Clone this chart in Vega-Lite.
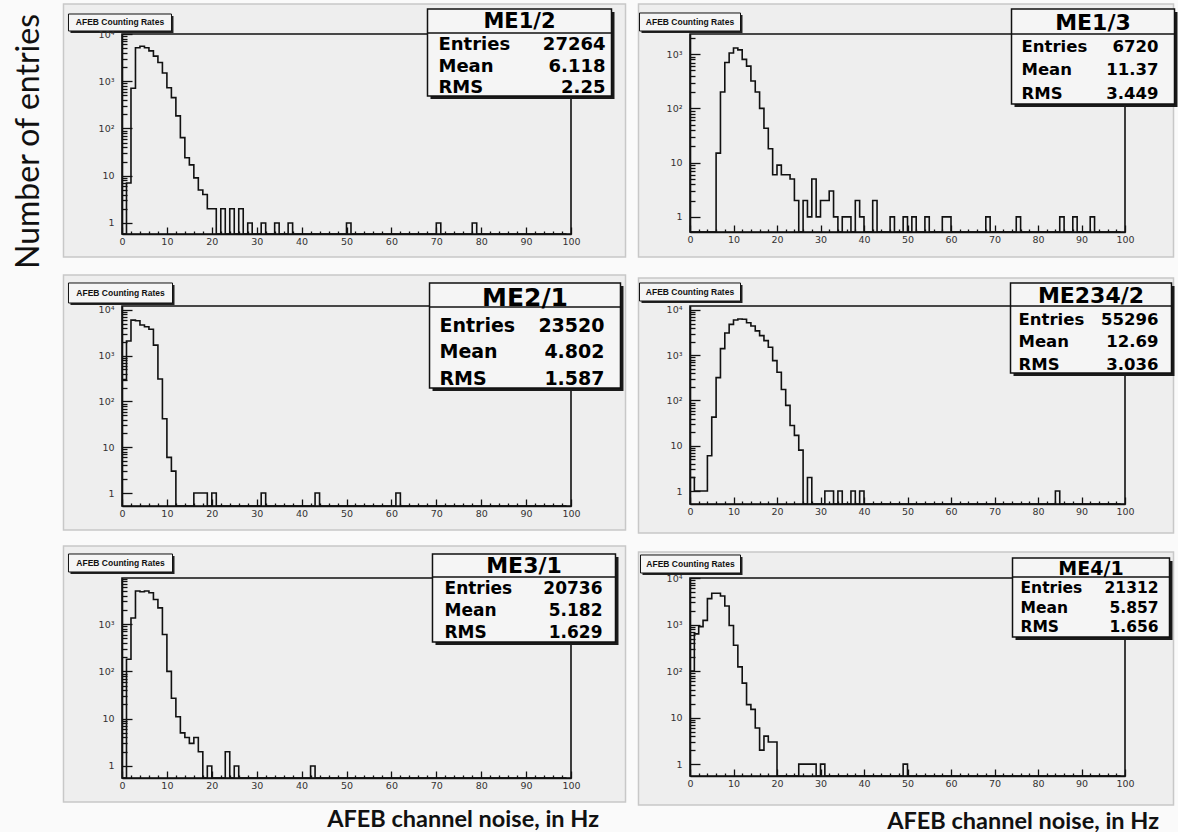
{
  "$schema": "https://vega.github.io/schema/vega-lite/v6.json",
  "background": "#fafafa",
  "padding": {"left": 12, "top": 3, "right": 0, "bottom": 0},
  "columns": 2,
  "spacing": {"row": 72, "column": 119},
  "bounds": "flush",
  "config": {
    "view": {"stroke": null},
    "axis": {"grid": false, "domainColor": "#111111", "domainWidth": 1.6, "tickColor": "#111111", "tickWidth": 1.3, "labelFont": "DejaVu Sans", "labelFontSize": 9.5, "labelColor": "#333333", "labelOverlap": false, "labelFlush": false, "labelBound": false}
  },
  "datasets": {
    "stats": [
      {"chamber": "ME1/2", "title": "AFEB Counting Rates", "names": "Entries\nMean\nRMS", "stat_values": "27264\n6.118\n2.25"},
      {"chamber": "ME1/3", "title": "AFEB Counting Rates", "names": "Entries\nMean\nRMS", "stat_values": "6720\n11.37\n3.449"},
      {"chamber": "ME2/1", "title": "AFEB Counting Rates", "names": "Entries\nMean\nRMS", "stat_values": "23520\n4.802\n1.587"},
      {"chamber": "ME234/2", "title": "AFEB Counting Rates", "names": "Entries\nMean\nRMS", "stat_values": "55296\n12.69\n3.036"},
      {"chamber": "ME3/1", "title": "AFEB Counting Rates", "names": "Entries\nMean\nRMS", "stat_values": "20736\n5.182\n1.629"},
      {"chamber": "ME4/1", "title": "AFEB Counting Rates", "names": "Entries\nMean\nRMS", "stat_values": "21312\n5.857\n1.656"}
    ],
    "me12": [
      {"bin":0,"n":0},{"bin":1,"n":7},{"bin":2,"n":710},{"bin":3,"n":5100},{"bin":4,"n":5500},{"bin":5,"n":5100},{"bin":6,"n":4400},{"bin":7,"n":3400},{"bin":8,"n":2500},{"bin":9,"n":1500},
      {"bin":10,"n":730},{"bin":11,"n":450},{"bin":12,"n":185},{"bin":13,"n":64},{"bin":14,"n":24},{"bin":15,"n":17},{"bin":16,"n":9},{"bin":17,"n":5},{"bin":18,"n":4},{"bin":19,"n":2},
      {"bin":20,"n":2},{"bin":21,"n":0},{"bin":22,"n":2},{"bin":23,"n":0},{"bin":24,"n":2},{"bin":25,"n":0},{"bin":26,"n":2},{"bin":27,"n":0},{"bin":28,"n":1},{"bin":29,"n":0},
      {"bin":30,"n":0},{"bin":31,"n":1},{"bin":32,"n":0},{"bin":33,"n":0},{"bin":34,"n":1},{"bin":35,"n":0},{"bin":36,"n":0},{"bin":37,"n":1},{"bin":38,"n":0},{"bin":39,"n":0},
      {"bin":40,"n":0},{"bin":41,"n":0},{"bin":42,"n":0},{"bin":43,"n":0},{"bin":44,"n":0},{"bin":45,"n":0},{"bin":46,"n":0},{"bin":47,"n":0},{"bin":48,"n":0},{"bin":49,"n":0},
      {"bin":50,"n":1},{"bin":51,"n":0},{"bin":52,"n":0},{"bin":53,"n":0},{"bin":54,"n":0},{"bin":55,"n":0},{"bin":56,"n":0},{"bin":57,"n":0},{"bin":58,"n":0},{"bin":59,"n":0},
      {"bin":60,"n":0},{"bin":61,"n":0},{"bin":62,"n":0},{"bin":63,"n":0},{"bin":64,"n":0},{"bin":65,"n":0},{"bin":66,"n":0},{"bin":67,"n":0},{"bin":68,"n":0},{"bin":69,"n":0},
      {"bin":70,"n":1},{"bin":71,"n":0},{"bin":72,"n":0},{"bin":73,"n":0},{"bin":74,"n":0},{"bin":75,"n":0},{"bin":76,"n":0},{"bin":77,"n":0},{"bin":78,"n":1},{"bin":79,"n":0},
      {"bin":80,"n":0},{"bin":81,"n":0},{"bin":82,"n":0},{"bin":83,"n":0},{"bin":84,"n":0},{"bin":85,"n":0},{"bin":86,"n":0},{"bin":87,"n":0},{"bin":88,"n":0},{"bin":89,"n":0},
      {"bin":90,"n":0},{"bin":91,"n":0},{"bin":92,"n":0},{"bin":93,"n":0},{"bin":94,"n":0},{"bin":95,"n":0},{"bin":96,"n":0},{"bin":97,"n":0},{"bin":98,"n":0},{"bin":99,"n":0}
    ],
    "me13": [
      {"bin":0,"n":0},{"bin":1,"n":0},{"bin":2,"n":0},{"bin":3,"n":0},{"bin":4,"n":0},{"bin":5,"n":0},{"bin":6,"n":15},{"bin":7,"n":200},{"bin":8,"n":700},{"bin":9,"n":1050},
      {"bin":10,"n":1300},{"bin":11,"n":1200},{"bin":12,"n":800},{"bin":13,"n":600},{"bin":14,"n":320},{"bin":15,"n":200},{"bin":16,"n":100},{"bin":17,"n":43},{"bin":18,"n":18},{"bin":19,"n":6},
      {"bin":20,"n":9},{"bin":21,"n":6},{"bin":22,"n":6},{"bin":23,"n":5},{"bin":24,"n":2},{"bin":25,"n":0},{"bin":26,"n":2},{"bin":27,"n":1},{"bin":28,"n":5},{"bin":29,"n":1},
      {"bin":30,"n":2},{"bin":31,"n":2},{"bin":32,"n":3},{"bin":33,"n":1},{"bin":34,"n":0},{"bin":35,"n":1},{"bin":36,"n":1},{"bin":37,"n":0},{"bin":38,"n":2},{"bin":39,"n":1},
      {"bin":40,"n":0},{"bin":41,"n":0},{"bin":42,"n":2},{"bin":43,"n":0},{"bin":44,"n":0},{"bin":45,"n":0},{"bin":46,"n":1},{"bin":47,"n":0},{"bin":48,"n":0},{"bin":49,"n":1},
      {"bin":50,"n":0},{"bin":51,"n":1},{"bin":52,"n":0},{"bin":53,"n":0},{"bin":54,"n":1},{"bin":55,"n":0},{"bin":56,"n":0},{"bin":57,"n":0},{"bin":58,"n":1},{"bin":59,"n":1},
      {"bin":60,"n":0},{"bin":61,"n":0},{"bin":62,"n":0},{"bin":63,"n":0},{"bin":64,"n":0},{"bin":65,"n":0},{"bin":66,"n":0},{"bin":67,"n":0},{"bin":68,"n":1},{"bin":69,"n":0},
      {"bin":70,"n":0},{"bin":71,"n":0},{"bin":72,"n":0},{"bin":73,"n":0},{"bin":74,"n":0},{"bin":75,"n":1},{"bin":76,"n":0},{"bin":77,"n":0},{"bin":78,"n":0},{"bin":79,"n":0},
      {"bin":80,"n":0},{"bin":81,"n":0},{"bin":82,"n":0},{"bin":83,"n":0},{"bin":84,"n":0},{"bin":85,"n":1},{"bin":86,"n":0},{"bin":87,"n":0},{"bin":88,"n":1},{"bin":89,"n":0},
      {"bin":90,"n":0},{"bin":91,"n":0},{"bin":92,"n":1},{"bin":93,"n":0},{"bin":94,"n":0},{"bin":95,"n":0},{"bin":96,"n":0},{"bin":97,"n":0},{"bin":98,"n":0},{"bin":99,"n":0}
    ],
    "me21": [
      {"bin":0,"n":300},{"bin":1,"n":2100},{"bin":2,"n":6000},{"bin":3,"n":5800},{"bin":4,"n":4700},{"bin":5,"n":4300},{"bin":6,"n":3800},{"bin":7,"n":1700},{"bin":8,"n":310},{"bin":9,"n":42},
      {"bin":10,"n":6},{"bin":11,"n":3},{"bin":12,"n":0},{"bin":13,"n":0},{"bin":14,"n":0},{"bin":15,"n":0},{"bin":16,"n":1},{"bin":17,"n":1},{"bin":18,"n":1},{"bin":19,"n":0},
      {"bin":20,"n":1},{"bin":21,"n":0},{"bin":22,"n":0},{"bin":23,"n":0},{"bin":24,"n":0},{"bin":25,"n":0},{"bin":26,"n":0},{"bin":27,"n":0},{"bin":28,"n":0},{"bin":29,"n":0},
      {"bin":30,"n":0},{"bin":31,"n":1},{"bin":32,"n":0},{"bin":33,"n":0},{"bin":34,"n":0},{"bin":35,"n":0},{"bin":36,"n":0},{"bin":37,"n":0},{"bin":38,"n":0},{"bin":39,"n":0},
      {"bin":40,"n":0},{"bin":41,"n":0},{"bin":42,"n":0},{"bin":43,"n":1},{"bin":44,"n":0},{"bin":45,"n":0},{"bin":46,"n":0},{"bin":47,"n":0},{"bin":48,"n":0},{"bin":49,"n":0},
      {"bin":50,"n":0},{"bin":51,"n":0},{"bin":52,"n":0},{"bin":53,"n":0},{"bin":54,"n":0},{"bin":55,"n":0},{"bin":56,"n":0},{"bin":57,"n":0},{"bin":58,"n":0},{"bin":59,"n":0},
      {"bin":60,"n":0},{"bin":61,"n":1},{"bin":62,"n":0},{"bin":63,"n":0},{"bin":64,"n":0},{"bin":65,"n":0},{"bin":66,"n":0},{"bin":67,"n":0},{"bin":68,"n":0},{"bin":69,"n":0},
      {"bin":70,"n":0},{"bin":71,"n":0},{"bin":72,"n":0},{"bin":73,"n":0},{"bin":74,"n":0},{"bin":75,"n":0},{"bin":76,"n":0},{"bin":77,"n":0},{"bin":78,"n":0},{"bin":79,"n":0},
      {"bin":80,"n":0},{"bin":81,"n":0},{"bin":82,"n":0},{"bin":83,"n":0},{"bin":84,"n":0},{"bin":85,"n":0},{"bin":86,"n":0},{"bin":87,"n":0},{"bin":88,"n":0},{"bin":89,"n":0},
      {"bin":90,"n":0},{"bin":91,"n":0},{"bin":92,"n":0},{"bin":93,"n":0},{"bin":94,"n":0},{"bin":95,"n":0},{"bin":96,"n":0},{"bin":97,"n":0},{"bin":98,"n":0},{"bin":99,"n":0}
    ],
    "me2342": [
      {"bin":0,"n":2},{"bin":1,"n":1},{"bin":2,"n":1},{"bin":3,"n":1},{"bin":4,"n":6},{"bin":5,"n":43},{"bin":6,"n":320},{"bin":7,"n":1400},{"bin":8,"n":3100},{"bin":9,"n":4800},
      {"bin":10,"n":6000},{"bin":11,"n":6300},{"bin":12,"n":6200},{"bin":13,"n":5200},{"bin":14,"n":4400},{"bin":15,"n":3450},{"bin":16,"n":2700},{"bin":17,"n":2100},{"bin":18,"n":1500},{"bin":19,"n":760},
      {"bin":20,"n":420},{"bin":21,"n":175},{"bin":22,"n":78},{"bin":23,"n":28},{"bin":24,"n":17},{"bin":25,"n":8},{"bin":26,"n":0},{"bin":27,"n":2},{"bin":28,"n":0},{"bin":29,"n":0},
      {"bin":30,"n":0},{"bin":31,"n":1},{"bin":32,"n":1},{"bin":33,"n":0},{"bin":34,"n":1},{"bin":35,"n":0},{"bin":36,"n":0},{"bin":37,"n":1},{"bin":38,"n":0},{"bin":39,"n":1},
      {"bin":40,"n":0},{"bin":41,"n":0},{"bin":42,"n":0},{"bin":43,"n":0},{"bin":44,"n":0},{"bin":45,"n":0},{"bin":46,"n":0},{"bin":47,"n":0},{"bin":48,"n":0},{"bin":49,"n":0},
      {"bin":50,"n":0},{"bin":51,"n":0},{"bin":52,"n":0},{"bin":53,"n":0},{"bin":54,"n":0},{"bin":55,"n":0},{"bin":56,"n":0},{"bin":57,"n":0},{"bin":58,"n":0},{"bin":59,"n":0},
      {"bin":60,"n":0},{"bin":61,"n":0},{"bin":62,"n":0},{"bin":63,"n":0},{"bin":64,"n":0},{"bin":65,"n":0},{"bin":66,"n":0},{"bin":67,"n":0},{"bin":68,"n":0},{"bin":69,"n":0},
      {"bin":70,"n":0},{"bin":71,"n":0},{"bin":72,"n":0},{"bin":73,"n":0},{"bin":74,"n":0},{"bin":75,"n":0},{"bin":76,"n":0},{"bin":77,"n":0},{"bin":78,"n":0},{"bin":79,"n":0},
      {"bin":80,"n":0},{"bin":81,"n":0},{"bin":82,"n":0},{"bin":83,"n":0},{"bin":84,"n":1},{"bin":85,"n":0},{"bin":86,"n":0},{"bin":87,"n":0},{"bin":88,"n":0},{"bin":89,"n":0},
      {"bin":90,"n":0},{"bin":91,"n":0},{"bin":92,"n":0},{"bin":93,"n":0},{"bin":94,"n":0},{"bin":95,"n":0},{"bin":96,"n":0},{"bin":97,"n":0},{"bin":98,"n":0},{"bin":99,"n":0}
    ],
    "me31": [
      {"bin":0,"n":0},{"bin":1,"n":180},{"bin":2,"n":1340},{"bin":3,"n":5000},{"bin":4,"n":4800},{"bin":5,"n":5000},{"bin":6,"n":4600},{"bin":7,"n":3300},{"bin":8,"n":2200},{"bin":9,"n":600},
      {"bin":10,"n":100},{"bin":11,"n":27},{"bin":12,"n":11},{"bin":13,"n":5},{"bin":14,"n":4},{"bin":15,"n":3},{"bin":16,"n":4},{"bin":17,"n":2},{"bin":18,"n":0},{"bin":19,"n":1},
      {"bin":20,"n":0},{"bin":21,"n":0},{"bin":22,"n":0},{"bin":23,"n":2},{"bin":24,"n":0},{"bin":25,"n":1},{"bin":26,"n":0},{"bin":27,"n":0},{"bin":28,"n":0},{"bin":29,"n":0},
      {"bin":30,"n":0},{"bin":31,"n":0},{"bin":32,"n":0},{"bin":33,"n":0},{"bin":34,"n":0},{"bin":35,"n":0},{"bin":36,"n":0},{"bin":37,"n":0},{"bin":38,"n":0},{"bin":39,"n":0},
      {"bin":40,"n":0},{"bin":41,"n":0},{"bin":42,"n":1},{"bin":43,"n":0},{"bin":44,"n":0},{"bin":45,"n":0},{"bin":46,"n":0},{"bin":47,"n":0},{"bin":48,"n":0},{"bin":49,"n":0},
      {"bin":50,"n":0},{"bin":51,"n":0},{"bin":52,"n":0},{"bin":53,"n":0},{"bin":54,"n":0},{"bin":55,"n":0},{"bin":56,"n":0},{"bin":57,"n":0},{"bin":58,"n":0},{"bin":59,"n":0},
      {"bin":60,"n":0},{"bin":61,"n":0},{"bin":62,"n":0},{"bin":63,"n":0},{"bin":64,"n":0},{"bin":65,"n":0},{"bin":66,"n":0},{"bin":67,"n":0},{"bin":68,"n":0},{"bin":69,"n":0},
      {"bin":70,"n":0},{"bin":71,"n":0},{"bin":72,"n":0},{"bin":73,"n":0},{"bin":74,"n":0},{"bin":75,"n":0},{"bin":76,"n":0},{"bin":77,"n":0},{"bin":78,"n":0},{"bin":79,"n":0},
      {"bin":80,"n":0},{"bin":81,"n":0},{"bin":82,"n":0},{"bin":83,"n":0},{"bin":84,"n":0},{"bin":85,"n":0},{"bin":86,"n":0},{"bin":87,"n":0},{"bin":88,"n":0},{"bin":89,"n":0},
      {"bin":90,"n":0},{"bin":91,"n":0},{"bin":92,"n":0},{"bin":93,"n":0},{"bin":94,"n":0},{"bin":95,"n":0},{"bin":96,"n":0},{"bin":97,"n":0},{"bin":98,"n":0},{"bin":99,"n":0}
    ],
    "me41": [
      {"bin":0,"n":100},{"bin":1,"n":630},{"bin":2,"n":900},{"bin":3,"n":1230},{"bin":4,"n":3600},{"bin":5,"n":4700},{"bin":6,"n":4700},{"bin":7,"n":4100},{"bin":8,"n":2500},{"bin":9,"n":950},
      {"bin":10,"n":360},{"bin":11,"n":123},{"bin":12,"n":55},{"bin":13,"n":19},{"bin":14,"n":15},{"bin":15,"n":6},{"bin":16,"n":2},{"bin":17,"n":4},{"bin":18,"n":3},{"bin":19,"n":3},
      {"bin":20,"n":0},{"bin":21,"n":0},{"bin":22,"n":0},{"bin":23,"n":0},{"bin":24,"n":0},{"bin":25,"n":1},{"bin":26,"n":1},{"bin":27,"n":1},{"bin":28,"n":1},{"bin":29,"n":0},
      {"bin":30,"n":1},{"bin":31,"n":0},{"bin":32,"n":0},{"bin":33,"n":0},{"bin":34,"n":0},{"bin":35,"n":0},{"bin":36,"n":0},{"bin":37,"n":0},{"bin":38,"n":0},{"bin":39,"n":0},
      {"bin":40,"n":0},{"bin":41,"n":0},{"bin":42,"n":0},{"bin":43,"n":0},{"bin":44,"n":0},{"bin":45,"n":0},{"bin":46,"n":0},{"bin":47,"n":0},{"bin":48,"n":0},{"bin":49,"n":1},
      {"bin":50,"n":0},{"bin":51,"n":0},{"bin":52,"n":0},{"bin":53,"n":0},{"bin":54,"n":0},{"bin":55,"n":0},{"bin":56,"n":0},{"bin":57,"n":0},{"bin":58,"n":0},{"bin":59,"n":0},
      {"bin":60,"n":0},{"bin":61,"n":0},{"bin":62,"n":0},{"bin":63,"n":0},{"bin":64,"n":0},{"bin":65,"n":0},{"bin":66,"n":0},{"bin":67,"n":0},{"bin":68,"n":0},{"bin":69,"n":0},
      {"bin":70,"n":0},{"bin":71,"n":0},{"bin":72,"n":0},{"bin":73,"n":0},{"bin":74,"n":0},{"bin":75,"n":0},{"bin":76,"n":0},{"bin":77,"n":0},{"bin":78,"n":0},{"bin":79,"n":0},
      {"bin":80,"n":0},{"bin":81,"n":0},{"bin":82,"n":0},{"bin":83,"n":0},{"bin":84,"n":0},{"bin":85,"n":0},{"bin":86,"n":0},{"bin":87,"n":0},{"bin":88,"n":0},{"bin":89,"n":0},
      {"bin":90,"n":0},{"bin":91,"n":0},{"bin":92,"n":0},{"bin":93,"n":0},{"bin":94,"n":0},{"bin":95,"n":0},{"bin":96,"n":0},{"bin":97,"n":0},{"bin":98,"n":0},{"bin":99,"n":0}
    ]
  },
  "concat": [
    {
      "width": 449, "height": 200,
      "layer": [
        {"data": {"name": "stats"}, "transform": [{"filter": "datum.chamber === 'ME1/2'"}],
         "layer": [
          {"mark": {"type": "rect", "fill": "#eeeeee", "stroke": "#c8c8c8", "strokeWidth": 1.5},
           "encoding": {"x": {"datum": -13.03, "type": "quantitative", "scale": {"domain": [0, 100], "nice": false, "zero": false}, "axis": null}, "x2": {"datum": 112.14},
                        "y": {"datum": 43140, "type": "quantitative", "scale": {"type": "log", "domain": [0.585, 10000], "nice": false}, "axis": null}, "y2": {"datum": 0.1907}}},
          {"mark": {"type": "rect", "filled": false, "stroke": "#111111", "strokeWidth": 1.6},
           "encoding": {"x": {"datum": 0, "type": "quantitative", "scale": {"domain": [0, 100], "nice": false, "zero": false}, "axis": null}, "x2": {"datum": 100},
                        "y": {"datum": 10000, "type": "quantitative", "scale": {"type": "log", "domain": [0.585, 10000], "nice": false}, "axis": null}, "y2": {"datum": 0.585}}}
         ]},
        {"data": {"name": "me12"},
         "mark": {"type": "line", "interpolate": "step-after", "stroke": "#111111", "strokeWidth": 1.6},
         "encoding": {
           "x": {"field": "bin", "type": "quantitative", "scale": {"domain": [0, 100], "nice": false, "zero": false},
                 "axis": {"orient": "bottom", "zindex": 1, "values": [0,2,4,6,8,10,12,14,16,18,20,22,24,26,28,30,32,34,36,38,40,42,44,46,48,50,52,54,56,58,60,62,64,66,68,70,72,74,76,78,80,82,84,86,88,90,92,94,96,98,100],
                          "labelExpr": "datum.value % 10 === 0 ? datum.label : ''", "tickSize": {"condition": {"test": "datum.value % 10 === 0", "value": -7}, "value": -3}, "labelPadding": 9.5, "title": null}},
           "y": {"field": "n", "type": "quantitative", "scale": {"type": "log", "domain": [0.585, 10000], "nice": false, "clamp": true},
                 "axis": {"orient": "left", "zindex": 1, "values": [1,2,3,4,5,6,7,8,9,10,20,30,40,50,60,70,80,90,100,200,300,400,500,600,700,800,900,1000,2000,3000,4000,5000,6000,7000,8000,9000,10000],
                          "labelExpr": "datum.value === 1 ? '1' : datum.value === 10 ? '10' : datum.value === 100 ? '10²' : datum.value === 1000 ? '10³' : datum.value === 10000 ? '10⁴' : ''",
                          "tickSize": {"condition": {"test": "datum.value === 1 || datum.value === 10 || datum.value === 100 || datum.value === 1000 || datum.value === 10000", "value": -10}, "value": -5},
                          "labelPadding": 18,
                          "title": "Number of entries", "titleFont": "Lato", "titleFontSize": 32, "titleFontWeight": "normal", "titleColor": "#111111", "titleAngle": -90, "titleAlign": "center", "titleBaseline": "alphabetic", "titleX": -83.5, "titleY": 107}}
         }},
        {"data": {"name": "stats"}, "transform": [{"filter": "datum.chamber === 'ME1/2'"}],
         "layer": [
          {"mark": {"type": "rect", "fill": "#222222", "xOffset": 2, "x2Offset": 2, "yOffset": 2, "y2Offset": 2},
           "encoding": {"x": {"datum": -11.92, "type": "quantitative", "scale": {"domain": [0, 100], "nice": false, "zero": false}, "axis": null}, "x2": {"datum": 11.02},
                        "y": {"datum": 26500, "type": "quantitative", "scale": {"type": "log", "domain": [0.585, 10000], "nice": false}, "axis": null}, "y2": {"datum": 11575}}},
          {"mark": {"type": "rect", "fill": "#f5f5f5", "stroke": "#111111", "strokeWidth": 1},
           "encoding": {"x": {"datum": -11.92, "type": "quantitative", "scale": {"domain": [0, 100], "nice": false, "zero": false}, "axis": null}, "x2": {"datum": 11.02},
                        "y": {"datum": 26500, "type": "quantitative", "scale": {"type": "log", "domain": [0.585, 10000], "nice": false}, "axis": null}, "y2": {"datum": 11575}}},
          {"mark": {"type": "text", "font": "Liberation Sans", "fontWeight": "bold", "fontSize": 8.5, "fill": "#111111", "align": "center", "baseline": "middle"},
           "encoding": {"text": {"field": "title"}, "x": {"datum": -0.45, "type": "quantitative", "scale": {"domain": [0, 100], "nice": false, "zero": false}, "axis": null},
                        "y": {"datum": 17515, "type": "quantitative", "scale": {"type": "log", "domain": [0.585, 10000], "nice": false}, "axis": null}}},
          {"mark": {"type": "rect", "fill": "#1a1a1a", "xOffset": 3, "x2Offset": 3, "yOffset": 3, "y2Offset": 3},
           "encoding": {"x": {"datum": 68.04, "type": "quantitative", "scale": {"domain": [0, 100], "nice": false, "zero": false}, "axis": null}, "x2": {"datum": 109.02},
                        "y": {"datum": 33810, "type": "quantitative", "scale": {"type": "log", "domain": [0.585, 10000], "nice": false}, "axis": null}, "y2": {"datum": 487.3}}},
          {"mark": {"type": "rect", "fill": "#f5f5f5", "stroke": "#111111", "strokeWidth": 1.5},
           "encoding": {"x": {"datum": 68.04, "type": "quantitative", "scale": {"domain": [0, 100], "nice": false, "zero": false}, "axis": null}, "x2": {"datum": 109.02},
                        "y": {"datum": 33810, "type": "quantitative", "scale": {"type": "log", "domain": [0.585, 10000], "nice": false}, "axis": null}, "y2": {"datum": 487.3}}},
          {"mark": {"type": "rule", "stroke": "#111111", "strokeWidth": 1.5},
           "encoding": {"x": {"datum": 68.04, "type": "quantitative", "scale": {"domain": [0, 100], "nice": false, "zero": false}, "axis": null}, "x2": {"datum": 109.02},
                        "y": {"datum": 10500, "type": "quantitative", "scale": {"type": "log", "domain": [0.585, 10000], "nice": false}, "axis": null}}},
          {"mark": {"type": "text", "font": "DejaVu Sans", "fontWeight": "bold", "fontSize": 21, "fill": "#000000", "align": "center", "baseline": "middle"},
           "encoding": {"text": {"field": "chamber"}, "x": {"datum": 88.53, "type": "quantitative", "scale": {"domain": [0, 100], "nice": false, "zero": false}, "axis": null},
                        "y": {"datum": 17950, "type": "quantitative", "scale": {"type": "log", "domain": [0.585, 10000], "nice": false}, "axis": null}}},
          {"mark": {"type": "text", "font": "DejaVu Sans", "fontWeight": "bold", "fontSize": 18, "lineHeight": 21.5, "lineBreak": "\n", "fill": "#000000", "align": "left", "baseline": "top"},
           "encoding": {"text": {"field": "names"}, "x": {"datum": 70.49, "type": "quantitative", "scale": {"domain": [0, 100], "nice": false, "zero": false}, "axis": null},
                        "y": {"datum": 8940, "type": "quantitative", "scale": {"type": "log", "domain": [0.585, 10000], "nice": false}, "axis": null}}},
          {"mark": {"type": "text", "font": "DejaVu Sans", "fontWeight": "bold", "fontSize": 18, "lineHeight": 21.5, "lineBreak": "\n", "fill": "#000000", "align": "right", "baseline": "top"},
           "encoding": {"text": {"field": "stat_values"}, "x": {"datum": 107.68, "type": "quantitative", "scale": {"domain": [0, 100], "nice": false, "zero": false}, "axis": null},
                        "y": {"datum": 8940, "type": "quantitative", "scale": {"type": "log", "domain": [0.585, 10000], "nice": false}, "axis": null}}}
         ]}
      ],
      "resolve": {"scale": {"x": "independent", "y": "independent"}}
    },
    {
      "width": 435, "height": 198,
      "layer": [
        {"data": {"name": "stats"}, "transform": [{"filter": "datum.chamber === 'ME1/3'"}],
         "layer": [
          {"mark": {"type": "rect", "fill": "#eeeeee", "stroke": "#c8c8c8", "strokeWidth": 1.5},
           "encoding": {"x": {"datum": -11.84, "type": "quantitative", "scale": {"domain": [0, 100], "nice": false, "zero": false}, "axis": null}, "x2": {"datum": 111.15},
                        "y": {"datum": 8395, "type": "quantitative", "scale": {"type": "log", "domain": [0.527, 2350], "nice": false}, "axis": null}, "y2": {"datum": 0.1825}}},
          {"mark": {"type": "rect", "filled": false, "stroke": "#111111", "strokeWidth": 1.6},
           "encoding": {"x": {"datum": 0, "type": "quantitative", "scale": {"domain": [0, 100], "nice": false, "zero": false}, "axis": null}, "x2": {"datum": 100},
                        "y": {"datum": 2350, "type": "quantitative", "scale": {"type": "log", "domain": [0.527, 2350], "nice": false}, "axis": null}, "y2": {"datum": 0.527}}}
         ]},
        {"data": {"name": "me13"},
         "mark": {"type": "line", "interpolate": "step-after", "stroke": "#111111", "strokeWidth": 1.6},
         "encoding": {
           "x": {"field": "bin", "type": "quantitative", "scale": {"domain": [0, 100], "nice": false, "zero": false},
                 "axis": {"orient": "bottom", "zindex": 1, "values": [0,2,4,6,8,10,12,14,16,18,20,22,24,26,28,30,32,34,36,38,40,42,44,46,48,50,52,54,56,58,60,62,64,66,68,70,72,74,76,78,80,82,84,86,88,90,92,94,96,98,100],
                          "labelExpr": "datum.value % 10 === 0 ? datum.label : ''", "tickSize": {"condition": {"test": "datum.value % 10 === 0", "value": -7}, "value": -3}, "labelPadding": 9.5, "title": null}},
           "y": {"field": "n", "type": "quantitative", "scale": {"type": "log", "domain": [0.527, 2350], "nice": false, "clamp": true},
                 "axis": {"orient": "left", "zindex": 1, "values": [1,2,3,4,5,6,7,8,9,10,20,30,40,50,60,70,80,90,100,200,300,400,500,600,700,800,900,1000,2000],
                          "labelExpr": "datum.value === 1 ? '1' : datum.value === 10 ? '10' : datum.value === 100 ? '10²' : datum.value === 1000 ? '10³' : datum.value === 10000 ? '10⁴' : ''",
                          "tickSize": {"condition": {"test": "datum.value === 1 || datum.value === 10 || datum.value === 100 || datum.value === 1000 || datum.value === 10000", "value": -10}, "value": -5},
                          "labelPadding": 18, "title": null}}
         }},
        {"data": {"name": "stats"}, "transform": [{"filter": "datum.chamber === 'ME1/3'"}],
         "layer": [
          {"mark": {"type": "rect", "fill": "#222222", "xOffset": 2, "x2Offset": 2, "yOffset": 2, "y2Offset": 2},
           "encoding": {"x": {"datum": -11.61, "type": "quantitative", "scale": {"domain": [0, 100], "nice": false, "zero": false}, "axis": null}, "x2": {"datum": 11.61},
                        "y": {"datum": 5731, "type": "quantitative", "scale": {"type": "log", "domain": [0.527, 2350], "nice": false}, "axis": null}, "y2": {"datum": 2669}}},
          {"mark": {"type": "rect", "fill": "#f5f5f5", "stroke": "#111111", "strokeWidth": 1},
           "encoding": {"x": {"datum": -11.61, "type": "quantitative", "scale": {"domain": [0, 100], "nice": false, "zero": false}, "axis": null}, "x2": {"datum": 11.61},
                        "y": {"datum": 5731, "type": "quantitative", "scale": {"type": "log", "domain": [0.527, 2350], "nice": false}, "axis": null}, "y2": {"datum": 2669}}},
          {"mark": {"type": "text", "font": "Liberation Sans", "fontWeight": "bold", "fontSize": 8.5, "fill": "#111111", "align": "center", "baseline": "middle"},
           "encoding": {"text": {"field": "title"}, "x": {"datum": 0, "type": "quantitative", "scale": {"domain": [0, 100], "nice": false, "zero": false}, "axis": null},
                        "y": {"datum": 3911, "type": "quantitative", "scale": {"type": "log", "domain": [0.527, 2350], "nice": false}, "axis": null}}},
          {"mark": {"type": "rect", "fill": "#1a1a1a", "xOffset": 3, "x2Offset": 3, "yOffset": 3, "y2Offset": 3},
           "encoding": {"x": {"datum": 73.91, "type": "quantitative", "scale": {"domain": [0, 100], "nice": false, "zero": false}, "axis": null}, "x2": {"datum": 111.38},
                        "y": {"datum": 6788, "type": "quantitative", "scale": {"type": "log", "domain": [0.527, 2350], "nice": false}, "axis": null}, "y2": {"datum": 120.5}}},
          {"mark": {"type": "rect", "fill": "#f5f5f5", "stroke": "#111111", "strokeWidth": 1.5},
           "encoding": {"x": {"datum": 73.91, "type": "quantitative", "scale": {"domain": [0, 100], "nice": false, "zero": false}, "axis": null}, "x2": {"datum": 111.38},
                        "y": {"datum": 6788, "type": "quantitative", "scale": {"type": "log", "domain": [0.527, 2350], "nice": false}, "axis": null}, "y2": {"datum": 120.5}}},
          {"mark": {"type": "rule", "stroke": "#111111", "strokeWidth": 1.5},
           "encoding": {"x": {"datum": 73.91, "type": "quantitative", "scale": {"domain": [0, 100], "nice": false, "zero": false}, "axis": null}, "x2": {"datum": 111.38},
                        "y": {"datum": 2350, "type": "quantitative", "scale": {"type": "log", "domain": [0.527, 2350], "nice": false}, "axis": null}}},
          {"mark": {"type": "text", "font": "DejaVu Sans", "fontWeight": "bold", "fontSize": 22, "fill": "#000000", "align": "center", "baseline": "middle"},
           "encoding": {"text": {"field": "chamber"}, "x": {"datum": 92.64, "type": "quantitative", "scale": {"domain": [0, 100], "nice": false, "zero": false}, "axis": null},
                        "y": {"datum": 3748, "type": "quantitative", "scale": {"type": "log", "domain": [0.527, 2350], "nice": false}, "axis": null}}},
          {"mark": {"type": "text", "font": "DejaVu Sans", "fontWeight": "bold", "fontSize": 16.5, "lineHeight": 23.5, "lineBreak": "\n", "fill": "#000000", "align": "left", "baseline": "top"},
           "encoding": {"text": {"field": "names"}, "x": {"datum": 76.21, "type": "quantitative", "scale": {"domain": [0, 100], "nice": false, "zero": false}, "axis": null},
                        "y": {"datum": 1909, "type": "quantitative", "scale": {"type": "log", "domain": [0.527, 2350], "nice": false}, "axis": null}}},
          {"mark": {"type": "text", "font": "DejaVu Sans", "fontWeight": "bold", "fontSize": 16.5, "lineHeight": 23.5, "lineBreak": "\n", "fill": "#000000", "align": "right", "baseline": "top"},
           "encoding": {"text": {"field": "stat_values"}, "x": {"datum": 107.7, "type": "quantitative", "scale": {"domain": [0, 100], "nice": false, "zero": false}, "axis": null},
                        "y": {"datum": 1909, "type": "quantitative", "scale": {"type": "log", "domain": [0.527, 2350], "nice": false}, "axis": null}}}
         ]}
      ],
      "resolve": {"scale": {"x": "independent", "y": "independent"}}
    },
    {
      "width": 449, "height": 200,
      "layer": [
        {"data": {"name": "stats"}, "transform": [{"filter": "datum.chamber === 'ME2/1'"}],
         "layer": [
          {"mark": {"type": "rect", "fill": "#eeeeee", "stroke": "#c8c8c8", "strokeWidth": 1.5},
           "encoding": {"x": {"datum": -13.03, "type": "quantitative", "scale": {"domain": [0, 100], "nice": false, "zero": false}, "axis": null}, "x2": {"datum": 112.14},
                        "y": {"datum": 58040, "type": "quantitative", "scale": {"type": "log", "domain": [0.52, 12200], "nice": false}, "axis": null}, "y2": {"datum": 0.1554}}},
          {"mark": {"type": "rect", "filled": false, "stroke": "#111111", "strokeWidth": 1.6},
           "encoding": {"x": {"datum": 0, "type": "quantitative", "scale": {"domain": [0, 100], "nice": false, "zero": false}, "axis": null}, "x2": {"datum": 100},
                        "y": {"datum": 12200, "type": "quantitative", "scale": {"type": "log", "domain": [0.52, 12200], "nice": false}, "axis": null}, "y2": {"datum": 0.52}}}
         ]},
        {"data": {"name": "me21"},
         "mark": {"type": "line", "interpolate": "step-after", "stroke": "#111111", "strokeWidth": 1.6},
         "encoding": {
           "x": {"field": "bin", "type": "quantitative", "scale": {"domain": [0, 100], "nice": false, "zero": false},
                 "axis": {"orient": "bottom", "zindex": 1, "values": [0,2,4,6,8,10,12,14,16,18,20,22,24,26,28,30,32,34,36,38,40,42,44,46,48,50,52,54,56,58,60,62,64,66,68,70,72,74,76,78,80,82,84,86,88,90,92,94,96,98,100],
                          "labelExpr": "datum.value % 10 === 0 ? datum.label : ''", "tickSize": {"condition": {"test": "datum.value % 10 === 0", "value": -7}, "value": -3}, "labelPadding": 9.5, "title": null}},
           "y": {"field": "n", "type": "quantitative", "scale": {"type": "log", "domain": [0.52, 12200], "nice": false, "clamp": true},
                 "axis": {"orient": "left", "zindex": 1, "values": [1,2,3,4,5,6,7,8,9,10,20,30,40,50,60,70,80,90,100,200,300,400,500,600,700,800,900,1000,2000,3000,4000,5000,6000,7000,8000,9000,10000],
                          "labelExpr": "datum.value === 1 ? '1' : datum.value === 10 ? '10' : datum.value === 100 ? '10²' : datum.value === 1000 ? '10³' : datum.value === 10000 ? '10⁴' : ''",
                          "tickSize": {"condition": {"test": "datum.value === 1 || datum.value === 10 || datum.value === 100 || datum.value === 1000 || datum.value === 10000", "value": -10}, "value": -5},
                          "labelPadding": 18, "title": null}}
         }},
        {"data": {"name": "stats"}, "transform": [{"filter": "datum.chamber === 'ME2/1'"}],
         "layer": [
          {"mark": {"type": "rect", "fill": "#222222", "xOffset": 2, "x2Offset": 2, "yOffset": 2, "y2Offset": 2},
           "encoding": {"x": {"datum": -11.92, "type": "quantitative", "scale": {"domain": [0, 100], "nice": false, "zero": false}, "axis": null}, "x2": {"datum": 11.25},
                        "y": {"datum": 38820, "type": "quantitative", "scale": {"type": "log", "domain": [0.52, 12200], "nice": false}, "axis": null}, "y2": {"datum": 14190}}},
          {"mark": {"type": "rect", "fill": "#f5f5f5", "stroke": "#111111", "strokeWidth": 1},
           "encoding": {"x": {"datum": -11.92, "type": "quantitative", "scale": {"domain": [0, 100], "nice": false, "zero": false}, "axis": null}, "x2": {"datum": 11.25},
                        "y": {"datum": 38820, "type": "quantitative", "scale": {"type": "log", "domain": [0.52, 12200], "nice": false}, "axis": null}, "y2": {"datum": 14190}}},
          {"mark": {"type": "text", "font": "Liberation Sans", "fontWeight": "bold", "fontSize": 8.5, "fill": "#111111", "align": "center", "baseline": "middle"},
           "encoding": {"text": {"field": "title"}, "x": {"datum": -0.33, "type": "quantitative", "scale": {"domain": [0, 100], "nice": false, "zero": false}, "axis": null},
                        "y": {"datum": 23470, "type": "quantitative", "scale": {"type": "log", "domain": [0.52, 12200], "nice": false}, "axis": null}}},
          {"mark": {"type": "rect", "fill": "#1a1a1a", "xOffset": 3, "x2Offset": 3, "yOffset": 3, "y2Offset": 3},
           "encoding": {"x": {"datum": 68.49, "type": "quantitative", "scale": {"domain": [0, 100], "nice": false, "zero": false}, "axis": null}, "x2": {"datum": 111.02},
                        "y": {"datum": 38820, "type": "quantitative", "scale": {"type": "log", "domain": [0.52, 12200], "nice": false}, "axis": null}, "y2": {"datum": 197}}},
          {"mark": {"type": "rect", "fill": "#f5f5f5", "stroke": "#111111", "strokeWidth": 1.5},
           "encoding": {"x": {"datum": 68.49, "type": "quantitative", "scale": {"domain": [0, 100], "nice": false, "zero": false}, "axis": null}, "x2": {"datum": 111.02},
                        "y": {"datum": 38820, "type": "quantitative", "scale": {"type": "log", "domain": [0.52, 12200], "nice": false}, "axis": null}, "y2": {"datum": 197}}},
          {"mark": {"type": "rule", "stroke": "#111111", "strokeWidth": 1.5},
           "encoding": {"x": {"datum": 68.49, "type": "quantitative", "scale": {"domain": [0, 100], "nice": false, "zero": false}, "axis": null}, "x2": {"datum": 111.02},
                        "y": {"datum": 11600, "type": "quantitative", "scale": {"type": "log", "domain": [0.52, 12200], "nice": false}, "axis": null}}},
          {"mark": {"type": "text", "font": "DejaVu Sans", "fontWeight": "bold", "fontSize": 25, "fill": "#000000", "align": "center", "baseline": "middle"},
           "encoding": {"text": {"field": "chamber"}, "x": {"datum": 89.76, "type": "quantitative", "scale": {"domain": [0, 100], "nice": false, "zero": false}, "axis": null},
                        "y": {"datum": 18250, "type": "quantitative", "scale": {"type": "log", "domain": [0.52, 12200], "nice": false}, "axis": null}}},
          {"mark": {"type": "text", "font": "DejaVu Sans", "fontWeight": "bold", "fontSize": 19, "lineHeight": 26.5, "lineBreak": "\n", "fill": "#000000", "align": "left", "baseline": "top"},
           "encoding": {"text": {"field": "names"}, "x": {"datum": 70.71, "type": "quantitative", "scale": {"domain": [0, 100], "nice": false, "zero": false}, "axis": null},
                        "y": {"datum": 7087, "type": "quantitative", "scale": {"type": "log", "domain": [0.52, 12200], "nice": false}, "axis": null}}},
          {"mark": {"type": "text", "font": "DejaVu Sans", "fontWeight": "bold", "fontSize": 19, "lineHeight": 26.5, "lineBreak": "\n", "fill": "#000000", "align": "right", "baseline": "top"},
           "encoding": {"text": {"field": "stat_values"}, "x": {"datum": 107.46, "type": "quantitative", "scale": {"domain": [0, 100], "nice": false, "zero": false}, "axis": null},
                        "y": {"datum": 7087, "type": "quantitative", "scale": {"type": "log", "domain": [0.52, 12200], "nice": false}, "axis": null}}}
         ]}
      ],
      "resolve": {"scale": {"x": "independent", "y": "independent"}}
    },
    {
      "width": 435, "height": 198,
      "layer": [
        {"data": {"name": "stats"}, "transform": [{"filter": "datum.chamber === 'ME234/2'"}],
         "layer": [
          {"mark": {"type": "rect", "fill": "#eeeeee", "stroke": "#c8c8c8", "strokeWidth": 1.5},
           "encoding": {"x": {"datum": -11.84, "type": "quantitative", "scale": {"domain": [0, 100], "nice": false, "zero": false}, "axis": null}, "x2": {"datum": 111.15},
                        "y": {"datum": 50660, "type": "quantitative", "scale": {"type": "log", "domain": [0.518, 12200], "nice": false}, "axis": null}, "y2": {"datum": 0.1187}}},
          {"mark": {"type": "rect", "filled": false, "stroke": "#111111", "strokeWidth": 1.6},
           "encoding": {"x": {"datum": 0, "type": "quantitative", "scale": {"domain": [0, 100], "nice": false, "zero": false}, "axis": null}, "x2": {"datum": 100},
                        "y": {"datum": 12200, "type": "quantitative", "scale": {"type": "log", "domain": [0.518, 12200], "nice": false}, "axis": null}, "y2": {"datum": 0.518}}}
         ]},
        {"data": {"name": "me2342"},
         "mark": {"type": "line", "interpolate": "step-after", "stroke": "#111111", "strokeWidth": 1.6},
         "encoding": {
           "x": {"field": "bin", "type": "quantitative", "scale": {"domain": [0, 100], "nice": false, "zero": false},
                 "axis": {"orient": "bottom", "zindex": 1, "values": [0,2,4,6,8,10,12,14,16,18,20,22,24,26,28,30,32,34,36,38,40,42,44,46,48,50,52,54,56,58,60,62,64,66,68,70,72,74,76,78,80,82,84,86,88,90,92,94,96,98,100],
                          "labelExpr": "datum.value % 10 === 0 ? datum.label : ''", "tickSize": {"condition": {"test": "datum.value % 10 === 0", "value": -7}, "value": -3}, "labelPadding": 9.5, "title": null}},
           "y": {"field": "n", "type": "quantitative", "scale": {"type": "log", "domain": [0.518, 12200], "nice": false, "clamp": true},
                 "axis": {"orient": "left", "zindex": 1, "values": [1,2,3,4,5,6,7,8,9,10,20,30,40,50,60,70,80,90,100,200,300,400,500,600,700,800,900,1000,2000,3000,4000,5000,6000,7000,8000,9000,10000],
                          "labelExpr": "datum.value === 1 ? '1' : datum.value === 10 ? '10' : datum.value === 100 ? '10²' : datum.value === 1000 ? '10³' : datum.value === 10000 ? '10⁴' : ''",
                          "tickSize": {"condition": {"test": "datum.value === 1 || datum.value === 10 || datum.value === 100 || datum.value === 1000 || datum.value === 10000", "value": -10}, "value": -5},
                          "labelPadding": 18, "title": null}}
         }},
        {"data": {"name": "stats"}, "transform": [{"filter": "datum.chamber === 'ME234/2'"}],
         "layer": [
          {"mark": {"type": "rect", "fill": "#222222", "xOffset": 2, "x2Offset": 2, "yOffset": 2, "y2Offset": 2},
           "encoding": {"x": {"datum": -11.61, "type": "quantitative", "scale": {"domain": [0, 100], "nice": false, "zero": false}, "axis": null}, "x2": {"datum": 11.61},
                        "y": {"datum": 39290, "type": "quantitative", "scale": {"type": "log", "domain": [0.518, 12200], "nice": false}, "axis": null}, "y2": {"datum": 15730}}},
          {"mark": {"type": "rect", "fill": "#f5f5f5", "stroke": "#111111", "strokeWidth": 1},
           "encoding": {"x": {"datum": -11.61, "type": "quantitative", "scale": {"domain": [0, 100], "nice": false, "zero": false}, "axis": null}, "x2": {"datum": 11.61},
                        "y": {"datum": 39290, "type": "quantitative", "scale": {"type": "log", "domain": [0.518, 12200], "nice": false}, "axis": null}, "y2": {"datum": 15730}}},
          {"mark": {"type": "text", "font": "Liberation Sans", "fontWeight": "bold", "fontSize": 8.5, "fill": "#111111", "align": "center", "baseline": "middle"},
           "encoding": {"text": {"field": "title"}, "x": {"datum": 0, "type": "quantitative", "scale": {"domain": [0, 100], "nice": false, "zero": false}, "axis": null},
                        "y": {"datum": 24860, "type": "quantitative", "scale": {"type": "log", "domain": [0.518, 12200], "nice": false}, "axis": null}}},
          {"mark": {"type": "rect", "fill": "#1a1a1a", "xOffset": 3, "x2Offset": 3, "yOffset": 3, "y2Offset": 3},
           "encoding": {"x": {"datum": 73.68, "type": "quantitative", "scale": {"domain": [0, 100], "nice": false, "zero": false}, "axis": null}, "x2": {"datum": 110.69},
                        "y": {"datum": 39290, "type": "quantitative", "scale": {"type": "log", "domain": [0.518, 12200], "nice": false}, "axis": null}, "y2": {"datum": 404.6}}},
          {"mark": {"type": "rect", "fill": "#f5f5f5", "stroke": "#111111", "strokeWidth": 1.5},
           "encoding": {"x": {"datum": 73.68, "type": "quantitative", "scale": {"domain": [0, 100], "nice": false, "zero": false}, "axis": null}, "x2": {"datum": 110.69},
                        "y": {"datum": 39290, "type": "quantitative", "scale": {"type": "log", "domain": [0.518, 12200], "nice": false}, "axis": null}, "y2": {"datum": 404.6}}},
          {"mark": {"type": "rule", "stroke": "#111111", "strokeWidth": 1.5},
           "encoding": {"x": {"datum": 73.68, "type": "quantitative", "scale": {"domain": [0, 100], "nice": false, "zero": false}, "axis": null}, "x2": {"datum": 110.69},
                        "y": {"datum": 12200, "type": "quantitative", "scale": {"type": "log", "domain": [0.518, 12200], "nice": false}, "axis": null}}},
          {"mark": {"type": "text", "font": "DejaVu Sans", "fontWeight": "bold", "fontSize": 22, "fill": "#000000", "align": "center", "baseline": "middle"},
           "encoding": {"text": {"field": "chamber"}, "x": {"datum": 92.18, "type": "quantitative", "scale": {"domain": [0, 100], "nice": false, "zero": false}, "axis": null},
                        "y": {"datum": 20290, "type": "quantitative", "scale": {"type": "log", "domain": [0.518, 12200], "nice": false}, "axis": null}}},
          {"mark": {"type": "text", "font": "DejaVu Sans", "fontWeight": "bold", "fontSize": 16.5, "lineHeight": 22.5, "lineBreak": "\n", "fill": "#000000", "align": "left", "baseline": "top"},
           "encoding": {"text": {"field": "names"}, "x": {"datum": 75.52, "type": "quantitative", "scale": {"domain": [0, 100], "nice": false, "zero": false}, "axis": null},
                        "y": {"datum": 9040, "type": "quantitative", "scale": {"type": "log", "domain": [0.518, 12200], "nice": false}, "axis": null}}},
          {"mark": {"type": "text", "font": "DejaVu Sans", "fontWeight": "bold", "fontSize": 16.5, "lineHeight": 22.5, "lineBreak": "\n", "fill": "#000000", "align": "right", "baseline": "top"},
           "encoding": {"text": {"field": "stat_values"}, "x": {"datum": 107.7, "type": "quantitative", "scale": {"domain": [0, 100], "nice": false, "zero": false}, "axis": null},
                        "y": {"datum": 9040, "type": "quantitative", "scale": {"type": "log", "domain": [0.518, 12200], "nice": false}, "axis": null}}}
         ]}
      ],
      "resolve": {"scale": {"x": "independent", "y": "independent"}}
    },
    {
      "width": 449, "height": 200,
      "layer": [
        {"data": {"name": "stats"}, "transform": [{"filter": "datum.chamber === 'ME3/1'"}],
         "layer": [
          {"mark": {"type": "rect", "fill": "#eeeeee", "stroke": "#c8c8c8", "strokeWidth": 1.5},
           "encoding": {"x": {"datum": -13.03, "type": "quantitative", "scale": {"domain": [0, 100], "nice": false, "zero": false}, "axis": null}, "x2": {"datum": 112.14},
                        "y": {"datum": 44610, "type": "quantitative", "scale": {"type": "log", "domain": [0.557, 9400], "nice": false}, "axis": null}, "y2": {"datum": 0.1731}}},
          {"mark": {"type": "rect", "filled": false, "stroke": "#111111", "strokeWidth": 1.6},
           "encoding": {"x": {"datum": 0, "type": "quantitative", "scale": {"domain": [0, 100], "nice": false, "zero": false}, "axis": null}, "x2": {"datum": 100},
                        "y": {"datum": 9400, "type": "quantitative", "scale": {"type": "log", "domain": [0.557, 9400], "nice": false}, "axis": null}, "y2": {"datum": 0.557}}}
         ]},
        {"data": {"name": "me31"},
         "mark": {"type": "line", "interpolate": "step-after", "stroke": "#111111", "strokeWidth": 1.6},
         "encoding": {
           "x": {"field": "bin", "type": "quantitative", "scale": {"domain": [0, 100], "nice": false, "zero": false},
                 "axis": {"orient": "bottom", "zindex": 1, "values": [0,2,4,6,8,10,12,14,16,18,20,22,24,26,28,30,32,34,36,38,40,42,44,46,48,50,52,54,56,58,60,62,64,66,68,70,72,74,76,78,80,82,84,86,88,90,92,94,96,98,100],
                          "labelExpr": "datum.value % 10 === 0 ? datum.label : ''", "tickSize": {"condition": {"test": "datum.value % 10 === 0", "value": -7}, "value": -3}, "labelPadding": 9.5,
                          "title": "AFEB channel noise, in Hz", "titleFont": "Lato", "titleFontSize": 23.5, "titleFontWeight": "bold", "titleColor": "#111111", "titleAlign": "right", "titleBaseline": "alphabetic", "titleX": 476.5, "titleY": 48}},
           "y": {"field": "n", "type": "quantitative", "scale": {"type": "log", "domain": [0.557, 9400], "nice": false, "clamp": true},
                 "axis": {"orient": "left", "zindex": 1, "values": [1,2,3,4,5,6,7,8,9,10,20,30,40,50,60,70,80,90,100,200,300,400,500,600,700,800,900,1000,2000,3000,4000,5000,6000,7000,8000,9000],
                          "labelExpr": "datum.value === 1 ? '1' : datum.value === 10 ? '10' : datum.value === 100 ? '10²' : datum.value === 1000 ? '10³' : datum.value === 10000 ? '10⁴' : ''",
                          "tickSize": {"condition": {"test": "datum.value === 1 || datum.value === 10 || datum.value === 100 || datum.value === 1000 || datum.value === 10000", "value": -10}, "value": -5},
                          "labelPadding": 18, "title": null}}
         }},
        {"data": {"name": "stats"}, "transform": [{"filter": "datum.chamber === 'ME3/1'"}],
         "layer": [
          {"mark": {"type": "rect", "fill": "#222222", "xOffset": 2, "x2Offset": 2, "yOffset": 2, "y2Offset": 2},
           "encoding": {"x": {"datum": -11.92, "type": "quantitative", "scale": {"domain": [0, 100], "nice": false, "zero": false}, "axis": null}, "x2": {"datum": 11.25},
                        "y": {"datum": 30230, "type": "quantitative", "scale": {"type": "log", "domain": [0.557, 9400], "nice": false}, "axis": null}, "y2": {"datum": 12590}}},
          {"mark": {"type": "rect", "fill": "#f5f5f5", "stroke": "#111111", "strokeWidth": 1},
           "encoding": {"x": {"datum": -11.92, "type": "quantitative", "scale": {"domain": [0, 100], "nice": false, "zero": false}, "axis": null}, "x2": {"datum": 11.25},
                        "y": {"datum": 30230, "type": "quantitative", "scale": {"type": "log", "domain": [0.557, 9400], "nice": false}, "axis": null}, "y2": {"datum": 12590}}},
          {"mark": {"type": "text", "font": "Liberation Sans", "fontWeight": "bold", "fontSize": 8.5, "fill": "#111111", "align": "center", "baseline": "middle"},
           "encoding": {"text": {"field": "title"}, "x": {"datum": -0.33, "type": "quantitative", "scale": {"domain": [0, 100], "nice": false, "zero": false}, "axis": null},
                        "y": {"datum": 19510, "type": "quantitative", "scale": {"type": "log", "domain": [0.557, 9400], "nice": false}, "axis": null}}},
          {"mark": {"type": "rect", "fill": "#1a1a1a", "xOffset": 3, "x2Offset": 3, "yOffset": 3, "y2Offset": 3},
           "encoding": {"x": {"datum": 69.15, "type": "quantitative", "scale": {"domain": [0, 100], "nice": false, "zero": false}, "axis": null}, "x2": {"datum": 109.91},
                        "y": {"datum": 30230, "type": "quantitative", "scale": {"type": "log", "domain": [0.557, 9400], "nice": false}, "axis": null}, "y2": {"datum": 417.3}}},
          {"mark": {"type": "rect", "fill": "#f5f5f5", "stroke": "#111111", "strokeWidth": 1.5},
           "encoding": {"x": {"datum": 69.15, "type": "quantitative", "scale": {"domain": [0, 100], "nice": false, "zero": false}, "axis": null}, "x2": {"datum": 109.91},
                        "y": {"datum": 30230, "type": "quantitative", "scale": {"type": "log", "domain": [0.557, 9400], "nice": false}, "axis": null}, "y2": {"datum": 417.3}}},
          {"mark": {"type": "rule", "stroke": "#111111", "strokeWidth": 1.5},
           "encoding": {"x": {"datum": 69.15, "type": "quantitative", "scale": {"domain": [0, 100], "nice": false, "zero": false}, "axis": null}, "x2": {"datum": 109.91},
                        "y": {"datum": 9867, "type": "quantitative", "scale": {"type": "log", "domain": [0.557, 9400], "nice": false}, "axis": null}}},
          {"mark": {"type": "text", "font": "DejaVu Sans", "fontWeight": "bold", "fontSize": 22, "fill": "#000000", "align": "center", "baseline": "middle"},
           "encoding": {"text": {"field": "chamber"}, "x": {"datum": 89.53, "type": "quantitative", "scale": {"domain": [0, 100], "nice": false, "zero": false}, "axis": null},
                        "y": {"datum": 16860, "type": "quantitative", "scale": {"type": "log", "domain": [0.557, 9400], "nice": false}, "axis": null}}},
          {"mark": {"type": "text", "font": "DejaVu Sans", "fontWeight": "bold", "fontSize": 17, "lineHeight": 22, "lineBreak": "\n", "fill": "#000000", "align": "left", "baseline": "top"},
           "encoding": {"text": {"field": "names"}, "x": {"datum": 71.83, "type": "quantitative", "scale": {"domain": [0, 100], "nice": false, "zero": false}, "axis": null},
                        "y": {"datum": 8241, "type": "quantitative", "scale": {"type": "log", "domain": [0.557, 9400], "nice": false}, "axis": null}}},
          {"mark": {"type": "text", "font": "DejaVu Sans", "fontWeight": "bold", "fontSize": 17, "lineHeight": 22, "lineBreak": "\n", "fill": "#000000", "align": "right", "baseline": "top"},
           "encoding": {"text": {"field": "stat_values"}, "x": {"datum": 107.02, "type": "quantitative", "scale": {"domain": [0, 100], "nice": false, "zero": false}, "axis": null},
                        "y": {"datum": 8241, "type": "quantitative", "scale": {"type": "log", "domain": [0.557, 9400], "nice": false}, "axis": null}}}
         ]}
      ],
      "resolve": {"scale": {"x": "independent", "y": "independent"}}
    },
    {
      "width": 435, "height": 198,
      "layer": [
        {"data": {"name": "stats"}, "transform": [{"filter": "datum.chamber === 'ME4/1'"}],
         "layer": [
          {"mark": {"type": "rect", "fill": "#eeeeee", "stroke": "#c8c8c8", "strokeWidth": 1.5},
           "encoding": {"x": {"datum": -11.84, "type": "quantitative", "scale": {"domain": [0, 100], "nice": false, "zero": false}, "axis": null}, "x2": {"datum": 111.15},
                        "y": {"datum": 36220, "type": "quantitative", "scale": {"type": "log", "domain": [0.556, 10000], "nice": false}, "axis": null}, "y2": {"datum": 0.1322}}},
          {"mark": {"type": "rect", "filled": false, "stroke": "#111111", "strokeWidth": 1.6},
           "encoding": {"x": {"datum": 0, "type": "quantitative", "scale": {"domain": [0, 100], "nice": false, "zero": false}, "axis": null}, "x2": {"datum": 100},
                        "y": {"datum": 10000, "type": "quantitative", "scale": {"type": "log", "domain": [0.556, 10000], "nice": false}, "axis": null}, "y2": {"datum": 0.556}}}
         ]},
        {"data": {"name": "me41"},
         "mark": {"type": "line", "interpolate": "step-after", "stroke": "#111111", "strokeWidth": 1.6},
         "encoding": {
           "x": {"field": "bin", "type": "quantitative", "scale": {"domain": [0, 100], "nice": false, "zero": false},
                 "axis": {"orient": "bottom", "zindex": 1, "values": [0,2,4,6,8,10,12,14,16,18,20,22,24,26,28,30,32,34,36,38,40,42,44,46,48,50,52,54,56,58,60,62,64,66,68,70,72,74,76,78,80,82,84,86,88,90,92,94,96,98,100],
                          "labelExpr": "datum.value % 10 === 0 ? datum.label : ''", "tickSize": {"condition": {"test": "datum.value % 10 === 0", "value": -7}, "value": -3}, "labelPadding": 9.5,
                          "title": "AFEB channel noise, in Hz", "titleFont": "Lato", "titleFontSize": 23.5, "titleFontWeight": "bold", "titleColor": "#111111", "titleAlign": "right", "titleBaseline": "alphabetic", "titleX": 468.5, "titleY": 52}},
           "y": {"field": "n", "type": "quantitative", "scale": {"type": "log", "domain": [0.556, 10000], "nice": false, "clamp": true},
                 "axis": {"orient": "left", "zindex": 1, "values": [1,2,3,4,5,6,7,8,9,10,20,30,40,50,60,70,80,90,100,200,300,400,500,600,700,800,900,1000,2000,3000,4000,5000,6000,7000,8000,9000,10000],
                          "labelExpr": "datum.value === 1 ? '1' : datum.value === 10 ? '10' : datum.value === 100 ? '10²' : datum.value === 1000 ? '10³' : datum.value === 10000 ? '10⁴' : ''",
                          "tickSize": {"condition": {"test": "datum.value === 1 || datum.value === 10 || datum.value === 100 || datum.value === 1000 || datum.value === 10000", "value": -10}, "value": -5},
                          "labelPadding": 18, "title": null}}
         }},
        {"data": {"name": "stats"}, "transform": [{"filter": "datum.chamber === 'ME4/1'"}],
         "layer": [
          {"mark": {"type": "rect", "fill": "#222222", "xOffset": 2, "x2Offset": 2, "yOffset": 2, "y2Offset": 2},
           "encoding": {"x": {"datum": -11.38, "type": "quantitative", "scale": {"domain": [0, 100], "nice": false, "zero": false}, "axis": null}, "x2": {"datum": 11.61},
                        "y": {"datum": 31220, "type": "quantitative", "scale": {"type": "log", "domain": [0.556, 10000], "nice": false}, "axis": null}, "y2": {"datum": 12810}}},
          {"mark": {"type": "rect", "fill": "#f5f5f5", "stroke": "#111111", "strokeWidth": 1},
           "encoding": {"x": {"datum": -11.38, "type": "quantitative", "scale": {"domain": [0, 100], "nice": false, "zero": false}, "axis": null}, "x2": {"datum": 11.61},
                        "y": {"datum": 31220, "type": "quantitative", "scale": {"type": "log", "domain": [0.556, 10000], "nice": false}, "axis": null}, "y2": {"datum": 12810}}},
          {"mark": {"type": "text", "font": "Liberation Sans", "fontWeight": "bold", "fontSize": 8.5, "fill": "#111111", "align": "center", "baseline": "middle"},
           "encoding": {"text": {"field": "title"}, "x": {"datum": 0.11, "type": "quantitative", "scale": {"domain": [0, 100], "nice": false, "zero": false}, "axis": null},
                        "y": {"datum": 19990, "type": "quantitative", "scale": {"type": "log", "domain": [0.556, 10000], "nice": false}, "axis": null}}},
          {"mark": {"type": "rect", "fill": "#1a1a1a", "xOffset": 3, "x2Offset": 3, "yOffset": 3, "y2Offset": 3},
           "encoding": {"x": {"datum": 74.14, "type": "quantitative", "scale": {"domain": [0, 100], "nice": false, "zero": false}, "axis": null}, "x2": {"datum": 110.23},
                        "y": {"datum": 26900, "type": "quantitative", "scale": {"type": "log", "domain": [0.556, 10000], "nice": false}, "axis": null}, "y2": {"datum": 539.5}}},
          {"mark": {"type": "rect", "fill": "#f5f5f5", "stroke": "#111111", "strokeWidth": 1.5},
           "encoding": {"x": {"datum": 74.14, "type": "quantitative", "scale": {"domain": [0, 100], "nice": false, "zero": false}, "axis": null}, "x2": {"datum": 110.23},
                        "y": {"datum": 26900, "type": "quantitative", "scale": {"type": "log", "domain": [0.556, 10000], "nice": false}, "axis": null}, "y2": {"datum": 539.5}}},
          {"mark": {"type": "rule", "stroke": "#111111", "strokeWidth": 1.5},
           "encoding": {"x": {"datum": 74.14, "type": "quantitative", "scale": {"domain": [0, 100], "nice": false, "zero": false}, "axis": null}, "x2": {"datum": 110.23},
                        "y": {"datum": 10507, "type": "quantitative", "scale": {"type": "log", "domain": [0.556, 10000], "nice": false}, "axis": null}}},
          {"mark": {"type": "text", "font": "DejaVu Sans", "fontWeight": "bold", "fontSize": 19, "fill": "#000000", "align": "center", "baseline": "middle"},
           "encoding": {"text": {"field": "chamber"}, "x": {"datum": 92.18, "type": "quantitative", "scale": {"domain": [0, 100], "nice": false, "zero": false}, "axis": null},
                        "y": {"datum": 15610, "type": "quantitative", "scale": {"type": "log", "domain": [0.556, 10000], "nice": false}, "axis": null}}},
          {"mark": {"type": "text", "font": "DejaVu Sans", "fontWeight": "bold", "fontSize": 15.5, "lineHeight": 19.5, "lineBreak": "\n", "fill": "#000000", "align": "left", "baseline": "top"},
           "encoding": {"text": {"field": "names"}, "x": {"datum": 75.98, "type": "quantitative", "scale": {"domain": [0, 100], "nice": false, "zero": false}, "axis": null},
                        "y": {"datum": 8494, "type": "quantitative", "scale": {"type": "log", "domain": [0.556, 10000], "nice": false}, "axis": null}}},
          {"mark": {"type": "text", "font": "DejaVu Sans", "fontWeight": "bold", "fontSize": 15.5, "lineHeight": 19.5, "lineBreak": "\n", "fill": "#000000", "align": "right", "baseline": "top"},
           "encoding": {"text": {"field": "stat_values"}, "x": {"datum": 107.7, "type": "quantitative", "scale": {"domain": [0, 100], "nice": false, "zero": false}, "axis": null},
                        "y": {"datum": 8494, "type": "quantitative", "scale": {"type": "log", "domain": [0.556, 10000], "nice": false}, "axis": null}}}
         ]}
      ],
      "resolve": {"scale": {"x": "independent", "y": "independent"}}
    }
  ]
}
